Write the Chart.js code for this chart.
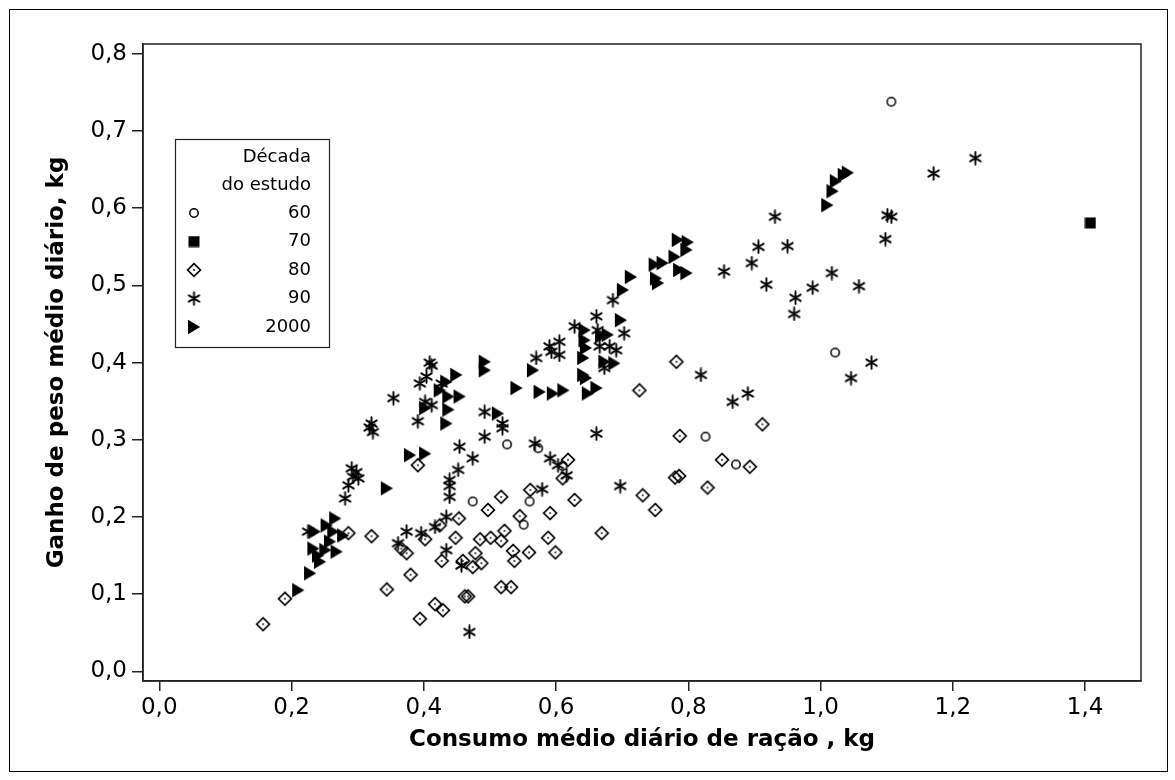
<!DOCTYPE html>
<html>
<head>
<meta charset="utf-8">
<script src="https://cdn.jsdelivr.net/npm/chart.js@4.4.1/dist/chart.umd.min.js"></script>
<style>
    html, body { margin: 0; padding: 0; background: #fff; }
    #wrap { width: 1175px; height: 780px; }
</style>
</head>
<body>
<div id="wrap"><canvas id="grafico"></canvas></div>
<script>
// valores: [consumo kg, ganho kg]
var decada60 = [[0.474, 0.220], [0.526, 0.294], [0.573, 0.289], [0.610, 0.266], [0.560, 0.220],
    [0.551, 0.190], [0.826, 0.304], [0.872, 0.268], [1.022, 0.413], [1.107, 0.738]];

var decada70 = [[1.408, 0.581]];

var decada80 = [[0.391, 0.267], [0.286, 0.179], [0.321, 0.175], [0.190, 0.094], [0.157, 0.061],
    [0.344, 0.106], [0.380, 0.125], [0.366, 0.159], [0.374, 0.153], [0.402, 0.171], [0.424, 0.189],
    [0.453, 0.198], [0.448, 0.173], [0.427, 0.143], [0.459, 0.143], [0.474, 0.135], [0.478, 0.153],
    [0.487, 0.140], [0.485, 0.171], [0.497, 0.209], [0.462, 0.097], [0.467, 0.097], [0.417, 0.087],
    [0.429, 0.079], [0.394, 0.068], [0.618, 0.274], [0.610, 0.250], [0.561, 0.235], [0.628, 0.222],
    [0.517, 0.226], [0.545, 0.201], [0.591, 0.205], [0.522, 0.182], [0.501, 0.173], [0.517, 0.169],
    [0.588, 0.173], [0.535, 0.156], [0.559, 0.154], [0.599, 0.154], [0.537, 0.143], [0.517, 0.109],
    [0.532, 0.109], [0.669, 0.179], [0.731, 0.228], [0.750, 0.209], [0.787, 0.305], [0.851, 0.274],
    [0.780, 0.251], [0.786, 0.253], [0.829, 0.238], [0.782, 0.401], [0.726, 0.364], [0.912, 0.320],
    [0.893, 0.265]];

var decada90 = [[0.409, 0.400], [0.412, 0.396], [0.404, 0.382], [0.394, 0.373], [0.427, 0.373],
    [0.354, 0.354], [0.402, 0.349], [0.412, 0.345], [0.391, 0.324], [0.321, 0.321], [0.318, 0.316],
    [0.323, 0.310], [0.492, 0.336], [0.492, 0.304], [0.454, 0.291], [0.474, 0.276], [0.452, 0.261],
    [0.439, 0.248], [0.439, 0.240], [0.439, 0.226], [0.291, 0.263], [0.298, 0.258], [0.293, 0.252],
    [0.301, 0.250], [0.286, 0.241], [0.281, 0.224], [0.434, 0.200], [0.225, 0.181], [0.361, 0.166],
    [0.374, 0.181], [0.396, 0.179], [0.417, 0.187], [0.434, 0.157], [0.457, 0.137], [0.469, 0.051],
    [0.854, 0.518], [0.686, 0.481], [0.661, 0.460], [0.628, 0.447], [0.663, 0.442], [0.703, 0.438],
    [0.666, 0.421], [0.681, 0.421], [0.691, 0.416], [0.605, 0.427], [0.590, 0.421], [0.593, 0.414],
    [0.605, 0.410], [0.570, 0.406], [0.673, 0.393], [0.819, 0.384], [0.519, 0.321], [0.519, 0.315],
    [0.568, 0.295], [0.661, 0.308], [0.591, 0.276], [0.603, 0.267], [0.616, 0.254], [0.579, 0.236],
    [0.697, 0.240], [1.171, 0.645], [1.234, 0.665], [1.101, 0.591], [1.107, 0.589], [1.098, 0.560],
    [0.931, 0.589], [0.906, 0.550], [0.950, 0.551], [0.896, 0.529], [0.918, 0.501], [1.017, 0.516],
    [0.988, 0.497], [1.058, 0.499], [0.962, 0.484], [0.960, 0.463], [1.077, 0.400], [1.046, 0.380],
    [0.867, 0.349], [0.890, 0.360]];

var decada2000 = [[0.492, 0.401], [0.492, 0.390], [0.449, 0.384], [0.434, 0.375], [0.424, 0.364],
    [0.437, 0.356], [0.454, 0.356], [0.402, 0.341], [0.437, 0.339], [0.434, 0.321], [0.379, 0.280],
    [0.402, 0.282], [0.344, 0.237], [0.266, 0.198], [0.253, 0.189], [0.235, 0.181], [0.263, 0.181],
    [0.278, 0.176], [0.233, 0.159], [0.251, 0.157], [0.268, 0.155], [0.243, 0.142], [0.228, 0.127],
    [0.210, 0.105], [0.240, 0.150], [0.258, 0.168], [0.784, 0.559], [0.799, 0.556], [0.797, 0.546],
    [0.779, 0.537], [0.749, 0.527], [0.761, 0.529], [0.786, 0.520], [0.797, 0.516], [0.751, 0.509],
    [0.754, 0.503], [0.713, 0.511], [0.701, 0.494], [0.698, 0.455], [0.643, 0.442], [0.678, 0.436],
    [0.668, 0.434], [0.643, 0.429], [0.645, 0.419], [0.641, 0.406], [0.673, 0.401], [0.688, 0.399],
    [0.641, 0.384], [0.645, 0.380], [0.565, 0.390], [0.540, 0.367], [0.575, 0.362], [0.595, 0.360],
    [0.611, 0.364], [0.648, 0.360], [0.661, 0.367], [0.512, 0.334], [1.041, 0.646], [1.035, 0.643],
    [1.023, 0.635], [1.018, 0.622], [1.010, 0.604]];

var rotulosDecada = ["60", "70", "80", "90", "2000"];
var ticksX = [0, 0.2, 0.4, 0.6, 0.8, 1.0, 1.2, 1.4];
var ticksY = [0, 0.1, 0.2, 0.3, 0.4, 0.5, 0.6, 0.7, 0.8];

var fonte = "'DejaVu Sans', Verdana, sans-serif";

// simbolos desenhados em canvas pequenos
function novoCanvas(w, h) {
    var c = document.createElement("canvas");
    c.width = w;
    c.height = h;
    return c;
}

function simboloCirculo() {
    var c = novoCanvas(12, 12), g = c.getContext("2d");
    g.strokeStyle = "#000";
    g.lineWidth = 1.5;
    g.beginPath();
    g.arc(6, 6, 4.2, 0, Math.PI * 2);
    g.stroke();
    return c;
}

function simboloQuadrado() {
    var c = novoCanvas(12, 12), g = c.getContext("2d");
    g.fillStyle = "#000";
    g.fillRect(0.5, 0.5, 11, 11);
    return c;
}

function simboloDiamante() {
    var c = novoCanvas(16, 16), g = c.getContext("2d");
    g.strokeStyle = "#000";
    g.lineWidth = 1.7;
    g.beginPath();
    g.moveTo(8, 1.6);
    g.lineTo(14.4, 8);
    g.lineTo(8, 14.4);
    g.lineTo(1.6, 8);
    g.closePath();
    g.stroke();
    g.fillStyle = "#000";
    g.fillRect(7.2, 7.2, 1.6, 1.6);
    return c;
}

function simboloAsterisco() {
    var c = novoCanvas(15, 15), g = c.getContext("2d");
    g.strokeStyle = "#000";
    g.lineWidth = 1.9;
    g.lineCap = "round";
    g.beginPath();
    [90, 30, 150].forEach(function (a) {
        var r = a * Math.PI / 180;
        g.moveTo(7.5 + Math.cos(r) * 6, 7.5 - Math.sin(r) * 6.3);
        g.lineTo(7.5 - Math.cos(r) * 6, 7.5 + Math.sin(r) * 6.3);
    });
    g.stroke();
    return c;
}

function simboloTriangulo() {
    var c = novoCanvas(14, 16), g = c.getContext("2d");
    g.fillStyle = "#000";
    g.beginPath();
    g.moveTo(1, 0.8);
    g.lineTo(13.2, 8);
    g.lineTo(1, 15.2);
    g.closePath();
    g.fill();
    return c;
}

var simbolos = [simboloCirculo(), simboloQuadrado(), simboloDiamante(), simboloAsterisco(), simboloTriangulo()];
var series = [decada60, decada70, decada80, decada90, decada2000];

function paraPontos(lista) {
    return lista.map(function (p) { return { x: p[0], y: p[1] }; });
}

function virgula(v) {
    return Number(v).toFixed(1).replace(".", ",");
}

var datasets = series.map(function (lista, i) {
    return {
        label: rotulosDecada[i],
        data: paraPontos(lista),
        pointStyle: simbolos[i],
        pointRadius: 6,
        showLine: false
    };
});

// moldura externa, caixa do grafico e legenda
var molduras = {
    id: "molduras",
    beforeDraw: function (chart) {
        var ctx = chart.ctx;
        ctx.save();
        ctx.fillStyle = "#fff";
        ctx.fillRect(0, 0, chart.width, chart.height);
        ctx.strokeStyle = "#000";
        ctx.lineWidth = 1;
        ctx.strokeRect(9.5, 9.5, 1158, 762);
        ctx.restore();
    },
    afterDraw: function (chart) {
        var ctx = chart.ctx, a = chart.chartArea;
        ctx.save();
        ctx.strokeStyle = "#222";
        ctx.lineWidth = 1.5;
        ctx.strokeRect(a.left, a.top, a.right - a.left, a.bottom - a.top);

        // legenda
        ctx.lineWidth = 1.2;
        ctx.strokeStyle = "#222";
        ctx.fillStyle = "#fff";
        ctx.fillRect(175, 139, 155, 209);
        ctx.strokeRect(175.5, 139.5, 154, 208);
        ctx.fillStyle = "#000";
        ctx.font = "18px " + fonte;
        ctx.textAlign = "right";
        ctx.textBaseline = "middle";
        ctx.fillText("Década", 311, 157);
        ctx.fillText("do estudo", 311, 185);
        for (var i = 0; i < rotulosDecada.length; i++) {
            var y = 213 + i * 28.5;
            ctx.fillText(rotulosDecada[i], 311, y);
            var s = simbolos[i];
            ctx.drawImage(s, 194 - s.width / 2, y - s.height / 2);
        }
        ctx.restore();
    }
};

new Chart("grafico", {
    type: "scatter",
    data: { datasets: datasets },
    plugins: [molduras],
    options: {
        responsive: true,
        maintainAspectRatio: false,
        animation: false,
        layout: { padding: { top: 44, right: 34, left: 0, bottom: 0 } },
        plugins: {
            legend: { display: false },
            tooltip: { enabled: false }
        },
        scales: {
            x: {
                type: "linear",
                min: -0.0246,
                max: 1.4845,
                afterFit: function (s) { s.height = 99; },
                afterBuildTicks: function (s) {
                    s.ticks = ticksX.map(function (v) { return { value: v }; });
                },
                grid: { drawOnChartArea: false, drawTicks: true, tickLength: 10, color: "#222", lineWidth: 1.5 },
                border: { display: true, color: "#222", width: 1.5 },
                ticks: {
                    color: "#000",
                    padding: 3,
                    maxRotation: 0,
                    font: { family: fonte, size: 23 },
                    callback: function (v) { return virgula(v); }
                },
                title: {
                    display: true,
                    text: "Consumo médio diário de ração , kg",
                    color: "#000",
                    padding: { top: 0, bottom: 26 },
                    font: { family: fonte, size: 23, weight: "bold" }
                }
            },
            y: {
                type: "linear",
                min: -0.0126,
                max: 0.8128,
                afterFit: function (s) { s.width = 143; },
                afterBuildTicks: function (s) {
                    s.ticks = ticksY.map(function (v) { return { value: v }; });
                },
                grid: { drawOnChartArea: false, drawTicks: true, tickLength: 11, color: "#222", lineWidth: 1.5 },
                border: { display: true, color: "#222", width: 1.5 },
                ticks: {
                    color: "#000",
                    padding: 5,
                    font: { family: fonte, size: 23 },
                    callback: function (v) { return virgula(v); }
                },
                title: {
                    display: true,
                    text: "Ganho de peso médio diário, kg",
                    color: "#000",
                    padding: { top: 43, bottom: 0 },
                    font: { family: fonte, size: 23, weight: "bold" }
                }
            }
        }
    }
});
</script>
</body>
</html>
